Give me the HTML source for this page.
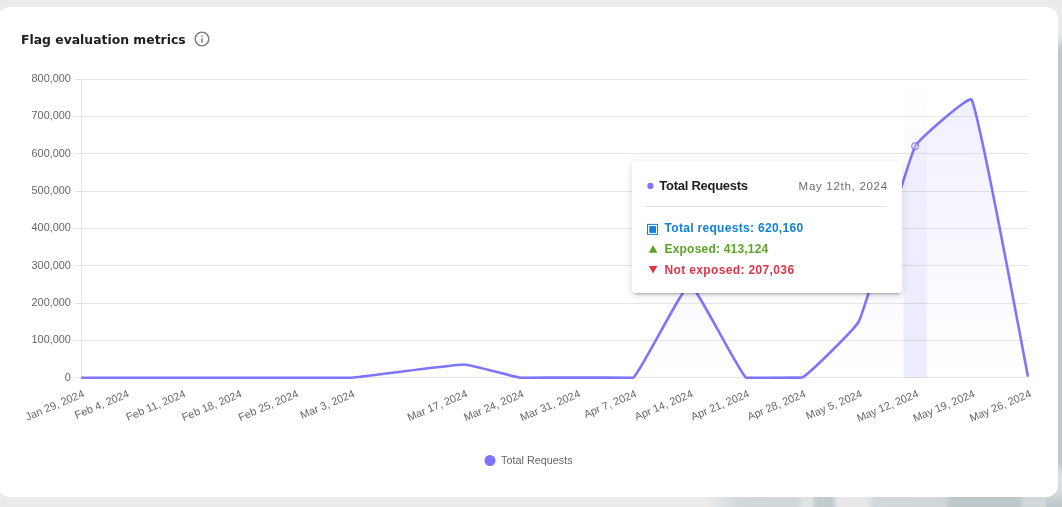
<!DOCTYPE html>
<html lang="en"><head><meta charset="utf-8"><title>Flag evaluation metrics</title>
<style>
html,body{margin:0;padding:0}
body{width:1062px;height:507px;overflow:hidden;background:#ebebec;position:relative;font-family:"Liberation Sans",sans-serif}
.bgr{position:absolute;left:1046px;top:0;width:16px;height:507px;background:linear-gradient(to bottom,#ebebec 0,#ebebec 32px,#dde1e3 40px,#c6ced1 47px,#bec7ca 52px,#bec7ca 462px,#d4dadc 470px,#dde1e3 480px,#d6dcde 492px,#c8d0d2 499px,#bec7ca 507px)}
.bgb{position:absolute;left:0;top:490px;width:1046px;height:17px;background:linear-gradient(to right,#ebebec 0,#ebebec 708px,#dde1e3 722px,#d3d9db 740px,#d1d7d9 796px,#dfe3e4 804px,#dfe3e4 811px,#c2cbcd 817px,#c2cbcd 832px,#e6e8e9 838px,#e6e8e9 866px,#d3d9db 874px,#d1d7d9 944px,#bec7ca 951px,#bec7ca 1018px,#d0d7d9 1024px,#d2d8da 1046px)}
.card{position:absolute;left:-2px;top:6.8px;width:1060.2px;height:490.1px;background:#fff;border-radius:12px}
.title{position:absolute;left:21px;top:30.7px;font-family:"DejaVu Sans","Liberation Sans",sans-serif;font-weight:700;font-size:12.4px;line-height:18px;color:#202021;white-space:nowrap;letter-spacing:0px}
svg{position:absolute;left:0;top:0}
.tk{font-family:"Liberation Sans",sans-serif;font-size:10.85px;fill:#666}
.tip{position:absolute;left:632px;top:161px;width:270px;height:132px;background:#fff;border-radius:4px;box-shadow:0 3px 3px -2px rgba(0,0,0,.3),0 2px 8px rgba(0,0,0,.13)}
.tip div{position:absolute;white-space:nowrap}
.t1{left:27.3px;top:17px;font-weight:700;font-size:13px;line-height:16px;color:#202021;letter-spacing:-.27px}
.t2{right:14.2px;top:17px;font-size:11.5px;line-height:16px;color:#6e6e70;letter-spacing:.71px}
.hr{left:14px;top:45px;width:241px;height:1px;background:#e0e0e0}
.r{left:32.5px;font-weight:700;font-size:12px;line-height:16px}
.r1{top:59.4px;color:#1282d8;letter-spacing:.31px}
.r2{top:79.5px;color:#5ea329;letter-spacing:.2px}
.r3{top:100.8px;color:#dd3648;letter-spacing:.36px}
</style></head><body>
<div class="bgr"></div><div class="bgb"></div>
<div class="card"></div>
<div class="title">Flag evaluation metrics</div>
<svg width="1062" height="507" viewBox="0 0 1062 507">
<defs>
<linearGradient id="fg" gradientUnits="userSpaceOnUse" x1="0" y1="79.1" x2="0" y2="377.77"><stop offset="0" stop-color="#7e75f8" stop-opacity=".12"/><stop offset="1" stop-color="#7e75f8" stop-opacity="0"/></linearGradient>
<linearGradient id="bg" gradientUnits="userSpaceOnUse" x1="0" y1="79.1" x2="0" y2="377.77"><stop offset="0" stop-color="#7e75f8" stop-opacity="0"/><stop offset="1" stop-color="#7e75f8" stop-opacity=".145"/></linearGradient>
<clipPath id="cp"><rect x="81.0" y="77.1" width="948.5" height="302.66999999999996"/></clipPath>
</defs>
<path transform="translate(193 30) scale(.75)" fill="#7e7e88" d="M11 7h2v2h-2zm0 4h2v6h-2zm1-9C6.48 2 2 6.48 2 12s4.48 10 10 10 10-4.48 10-10S17.52 2 12 2zm0 18c-4.41 0-8-3.59-8-8s3.59-8 8-8 8 3.59 8 8-3.59 8-8 8z"/>
<line x1="74" y1="377.50" x2="1028.0" y2="377.50" stroke="#e5e5e5" stroke-width="1"/>
<line x1="74" y1="340.50" x2="1028.0" y2="340.50" stroke="#e5e5e5" stroke-width="1"/>
<line x1="74" y1="303.50" x2="1028.0" y2="303.50" stroke="#e5e5e5" stroke-width="1"/>
<line x1="74" y1="265.50" x2="1028.0" y2="265.50" stroke="#e5e5e5" stroke-width="1"/>
<line x1="74" y1="228.50" x2="1028.0" y2="228.50" stroke="#e5e5e5" stroke-width="1"/>
<line x1="74" y1="191.50" x2="1028.0" y2="191.50" stroke="#e5e5e5" stroke-width="1"/>
<line x1="74" y1="153.50" x2="1028.0" y2="153.50" stroke="#e5e5e5" stroke-width="1"/>
<line x1="74" y1="116.50" x2="1028.0" y2="116.50" stroke="#e5e5e5" stroke-width="1"/>
<line x1="74" y1="79.50" x2="1028.0" y2="79.50" stroke="#e5e5e5" stroke-width="1"/>
<line x1="81.5" y1="79" x2="81.5" y2="378" stroke="#e5e5e5" stroke-width="1"/>
<rect x="903.6" y="79.1" width="23.2" height="298.36999999999995" fill="url(#bg)"/>
<path d="M81.00 377.77 C85.49 377.77 121.43 377.77 125.92 377.77 C131.56 377.77 176.66 377.77 182.30 377.77 C187.94 377.77 233.04 377.77 238.68 377.77 C244.32 377.77 289.42 377.77 295.06 377.77 C300.70 377.77 345.83 377.77 351.44 377.77 C362.74 376.88 453.00 364.52 464.20 364.52 C469.91 364.52 514.87 377.11 520.58 377.77 C526.14 377.77 571.32 377.58 576.96 377.58 C582.60 377.58 629.50 377.77 633.34 377.77 C640.77 371.63 684.08 284.44 689.72 284.44 C695.36 284.44 738.67 371.64 746.10 377.77 C749.94 377.77 797.80 377.77 802.48 377.40 C809.08 374.10 855.46 328.37 858.86 321.40 C866.74 305.25 907.17 162.11 915.24 146.24 C918.45 139.93 969.30 94.90 971.62 99.63 C980.58 117.94 1022.36 348.95 1028.00 376.65 L1028.00 377.77 L81.00 377.77 Z" fill="url(#fg)"/>
<path d="M81.00 377.77 C85.49 377.77 121.43 377.77 125.92 377.77 C131.56 377.77 176.66 377.77 182.30 377.77 C187.94 377.77 233.04 377.77 238.68 377.77 C244.32 377.77 289.42 377.77 295.06 377.77 C300.70 377.77 345.83 377.77 351.44 377.77 C362.74 376.88 453.00 364.52 464.20 364.52 C469.91 364.52 514.87 377.11 520.58 377.77 C526.14 377.77 571.32 377.58 576.96 377.58 C582.60 377.58 629.50 377.77 633.34 377.77 C640.77 371.63 684.08 284.44 689.72 284.44 C695.36 284.44 738.67 371.64 746.10 377.77 C749.94 377.77 797.80 377.77 802.48 377.40 C809.08 374.10 855.46 328.37 858.86 321.40 C866.74 305.25 907.17 162.11 915.24 146.24 C918.45 139.93 969.30 94.90 971.62 99.63 C980.58 117.94 1022.36 348.95 1028.00 376.65" fill="none" stroke="#7e75f8" stroke-width="2.6" stroke-linejoin="round" clip-path="url(#cp)"/>
<circle cx="915.1" cy="146.2" r="3.5" fill="#f0efff" fill-opacity=".35" stroke="#7268f7" stroke-width="1"/>
<text x="70.8" y="380.57" text-anchor="end" class="tk">0</text>
<text x="70.8" y="343.24" text-anchor="end" class="tk">100,000</text>
<text x="70.8" y="305.90" text-anchor="end" class="tk">200,000</text>
<text x="70.8" y="268.57" text-anchor="end" class="tk">300,000</text>
<text x="70.8" y="231.23" text-anchor="end" class="tk">400,000</text>
<text x="70.8" y="193.90" text-anchor="end" class="tk">500,000</text>
<text x="70.8" y="156.57" text-anchor="end" class="tk">600,000</text>
<text x="70.8" y="119.23" text-anchor="end" class="tk">700,000</text>
<text x="70.8" y="81.90" text-anchor="end" class="tk">800,000</text>
<text transform="translate(85.00 396.50) rotate(-22.8)" text-anchor="end" class="tk">Jan 29, 2024</text>
<text transform="translate(129.92 396.50) rotate(-22.8)" text-anchor="end" class="tk">Feb 4, 2024</text>
<text transform="translate(186.30 396.50) rotate(-22.8)" text-anchor="end" class="tk">Feb 11, 2024</text>
<text transform="translate(242.68 396.50) rotate(-22.8)" text-anchor="end" class="tk">Feb 18, 2024</text>
<text transform="translate(299.06 396.50) rotate(-22.8)" text-anchor="end" class="tk">Feb 25, 2024</text>
<text transform="translate(355.44 396.50) rotate(-22.8)" text-anchor="end" class="tk">Mar 3, 2024</text>
<text transform="translate(468.20 396.50) rotate(-22.8)" text-anchor="end" class="tk">Mar 17, 2024</text>
<text transform="translate(524.58 396.50) rotate(-22.8)" text-anchor="end" class="tk">Mar 24, 2024</text>
<text transform="translate(580.96 396.50) rotate(-22.8)" text-anchor="end" class="tk">Mar 31, 2024</text>
<text transform="translate(637.34 396.50) rotate(-22.8)" text-anchor="end" class="tk">Apr 7, 2024</text>
<text transform="translate(693.72 396.50) rotate(-22.8)" text-anchor="end" class="tk">Apr 14, 2024</text>
<text transform="translate(750.10 396.50) rotate(-22.8)" text-anchor="end" class="tk">Apr 21, 2024</text>
<text transform="translate(806.48 396.50) rotate(-22.8)" text-anchor="end" class="tk">Apr 28, 2024</text>
<text transform="translate(862.86 396.50) rotate(-22.8)" text-anchor="end" class="tk">May 5, 2024</text>
<text transform="translate(919.24 396.50) rotate(-22.8)" text-anchor="end" class="tk">May 12, 2024</text>
<text transform="translate(975.62 396.50) rotate(-22.8)" text-anchor="end" class="tk">May 19, 2024</text>
<text transform="translate(1032.00 396.50) rotate(-22.8)" text-anchor="end" class="tk">May 26, 2024</text>

<circle cx="490" cy="460.5" r="5.5" fill="#7e75f8"/>
<text x="501" y="464" class="tk">Total Requests</text>
</svg>
<div class="tip">
<svg width="270" height="132" viewBox="0 0 270 132">
<circle cx="18.4" cy="24.9" r="3.1" fill="#7e75f8"/>
<rect x="15.5" y="63.4" width="10" height="10" fill="none" stroke="#1282d8" stroke-width="1"/><rect x="17.2" y="65.1" width="6.8" height="6.8" fill="#1282d8"/>
<path d="M16.8 91.7 L25.4 91.7 L21.1 83.9Z" fill="#5ea329"/>
<path d="M16.8 104.9 L25.3 104.9 L21.05 112.5Z" fill="#dd3648"/>
</svg>
<div class="t1">Total Requests</div>
<div class="t2">May 12th, 2024</div>
<div class="hr"></div>
<div class="r r1">Total requests: 620,160</div>
<div class="r r2">Exposed: 413,124</div>
<div class="r r3">Not exposed: 207,036</div>
</div>
</body></html>
